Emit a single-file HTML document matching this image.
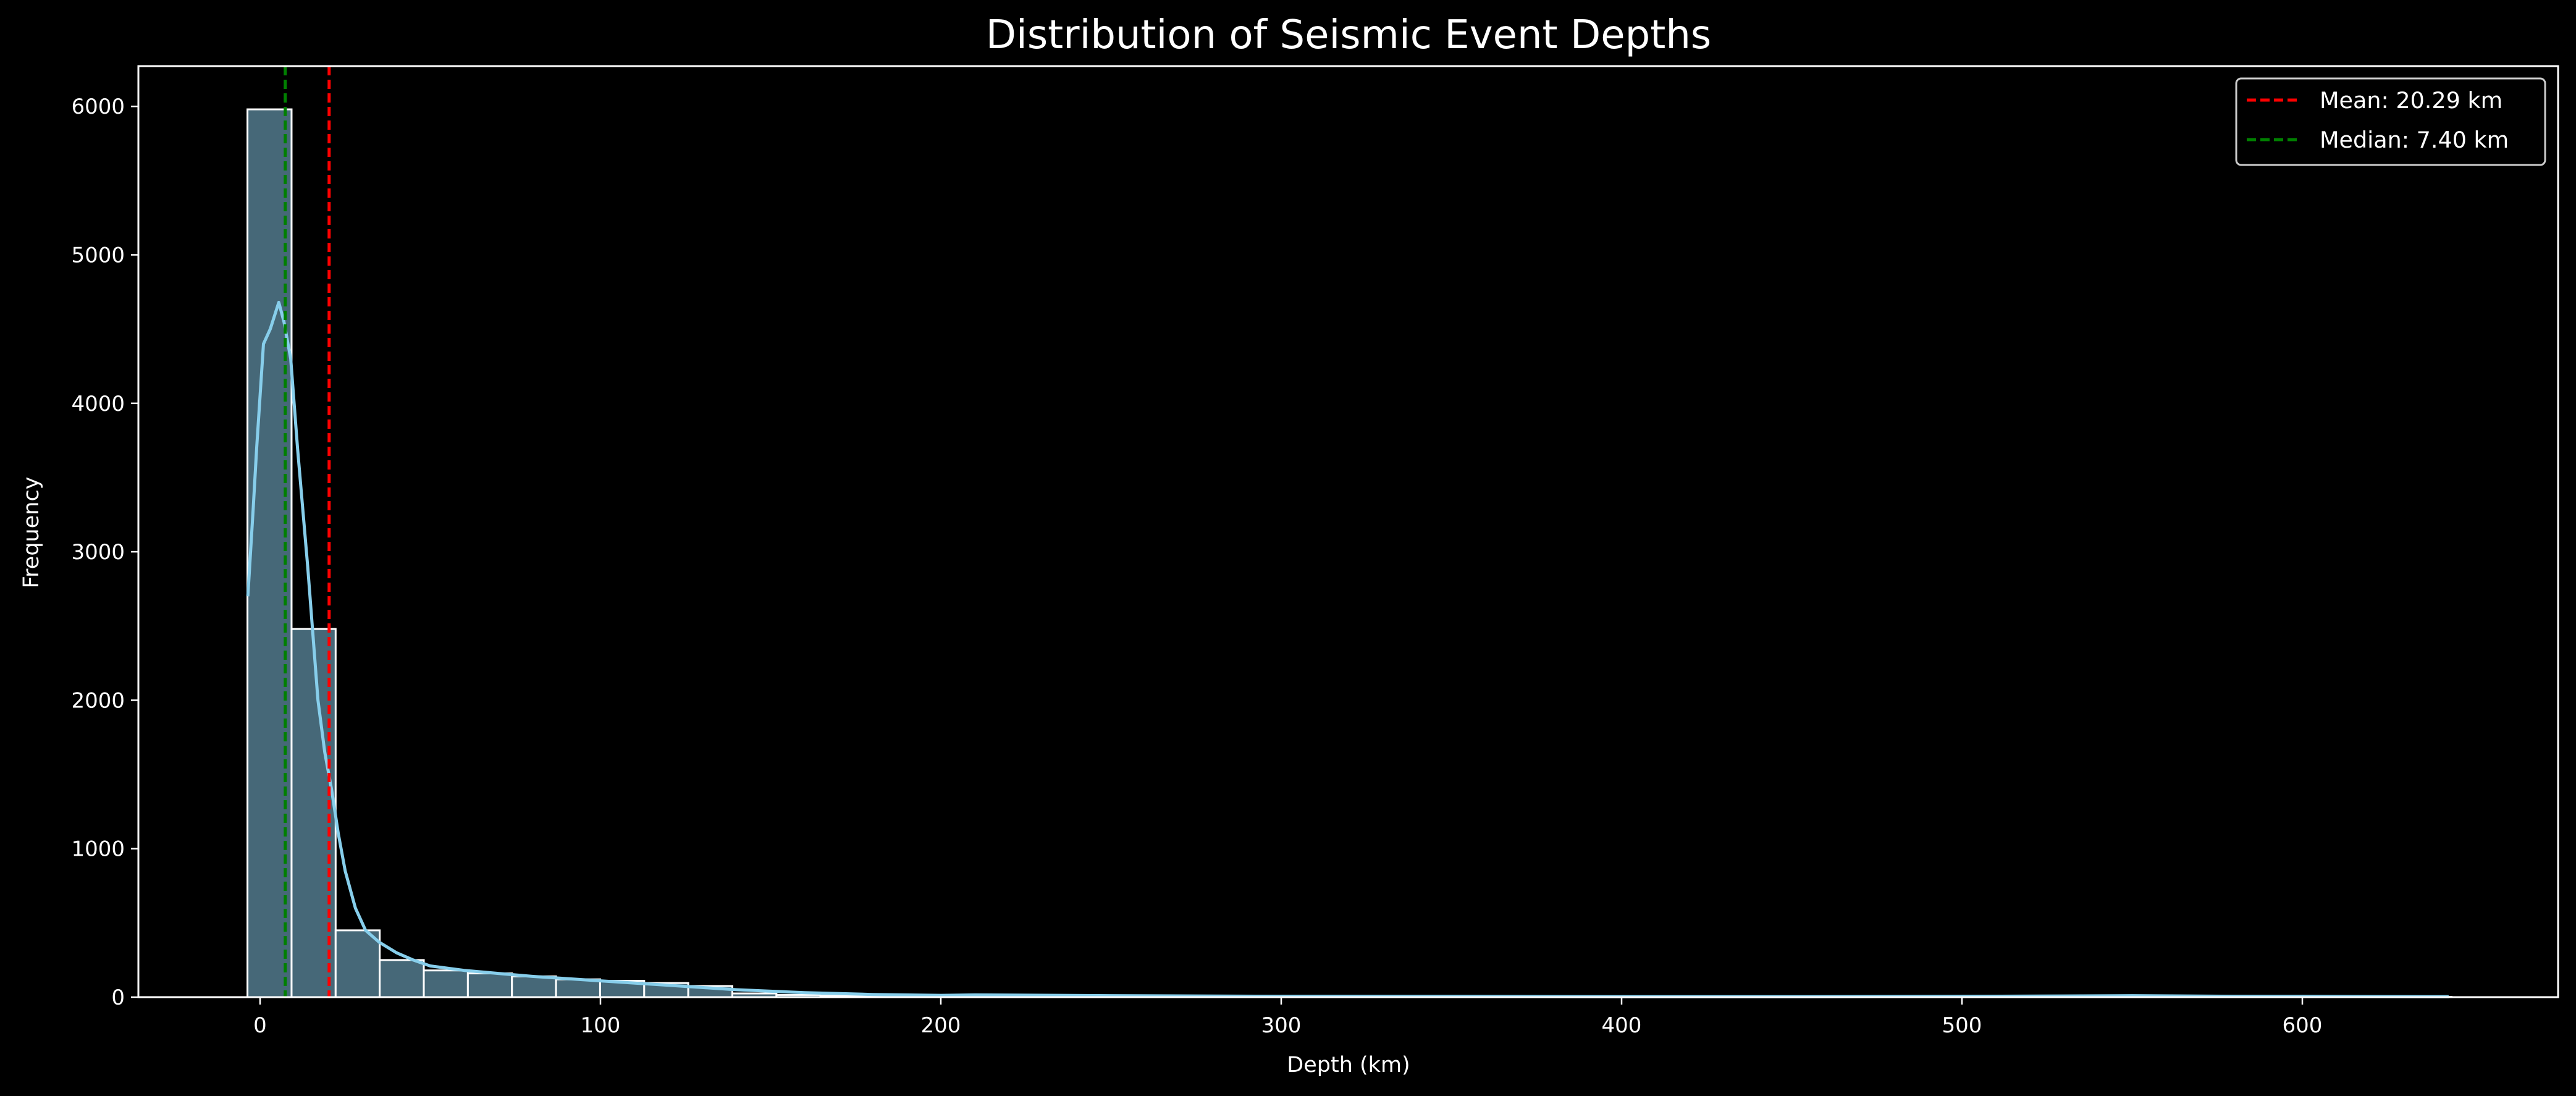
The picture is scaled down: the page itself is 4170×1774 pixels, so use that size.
<!DOCTYPE html>
<html><head><meta charset="utf-8"><style>
html,body{margin:0;padding:0;background:#000;}
svg{display:block;font-family:"DejaVu Sans","Liberation Sans",sans-serif;}
</style></head><body>
<svg id="chart" width="4170" height="1774" viewBox="0 0 4170 1774" xmlns="http://www.w3.org/2000/svg">
<rect x="0" y="0" width="4170" height="1774" fill="#000"/>
<text x="2183" y="78" font-size="64" fill="#fff" text-anchor="middle">Distribution of Seismic Event Depths</text>
<g id="bars"></g>
<g id="kde"></g>
<g id="vlines"></g>
<g id="axes"></g>
<text x="2183" y="1735" font-size="35" fill="#fff" text-anchor="middle">Depth (km)</text>
<text x="0" y="0" font-size="35" fill="#fff" text-anchor="middle" transform="translate(62,862) rotate(-90)">Frequency</text>
<g>
<rect x="3620" y="127" width="500" height="140" rx="8" fill="#000" stroke="#ccc" stroke-width="3"/>
<line x1="3637" y1="162" x2="3722" y2="162" stroke="#ff0000" stroke-width="5" stroke-dasharray="15 7"/>
<text x="3755" y="175" font-size="36.5" fill="#fff">Mean: 20.29 km</text>
<line x1="3637" y1="226" x2="3722" y2="226" stroke="#008000" stroke-width="5" stroke-dasharray="15 7"/>
<text x="3755" y="239" font-size="36.5" fill="#fff">Median: 7.40 km</text>
</g>
</svg>
<script>
const binStart = -3.7;
const binWidth = 12.95;
const counts = [5980,2480,450,250,180,160,140,120,110,95,75,25,15,10,8,6,5,4,4,3,3,3,2,2,2,2,2,2,2,2,2,2,2,3,3,3,3,3,4,4,5,6,7,8,8,6,5,4,3,2];
const kdeX = [-3.6,-2,-1,1,3,5.5,7,9,11,14,17,19,21,23,25,28,31,35,40,45,50,60,70,80,100,120,140,150,160,180,200,210,250,300,350,400,450,500,530,550,580,600,643];
const kdeY = [2700,3300,3700,4400,4500,4680,4550,4300,3700,2900,2000,1650,1400,1100,850,600,450,370,300,250,210,180,160,140,110,80,50,40,30,18,12,15,10,6,5,3,3,5,8,10,6,5,3];
const meanVal = 20.29;
const medianVal = 7.40;
const xTicks = [0,100,200,300,400,500,600];
const yTicks = [0,1000,2000,3000,4000,5000,6000];

const NS = "http://www.w3.org/2000/svg";
const L = 224, R = 4141, T = 107, B = 1614;
function xs(v){ return 421 + v * 5.51; }
function ys(v){ return 1614 - v * 0.2403; }
function mk(tag, attrs, parent){
  const e = document.createElementNS(NS, tag);
  for (const k in attrs) e.setAttribute(k, attrs[k]);
  parent.appendChild(e);
  return e;
}
const bars = document.getElementById('bars');
counts.forEach((c, i) => {
  const x0 = xs(binStart + i * binWidth), x1 = xs(binStart + (i + 1) * binWidth);
  const r = mk('rect', {x: x0, y: ys(c), width: x1 - x0, height: B - ys(c), fill: '#466878', stroke: '#fff', 'stroke-width': 3}, bars);
  
  
});
const kde = document.getElementById('kde');
const d = kdeX.map((x, i) => (i ? 'L' : 'M') + xs(x).toFixed(1) + ' ' + ys(kdeY[i]).toFixed(1)).join(' ');
const p = mk('path', {d: d, fill: 'none', stroke: '#87ceeb', 'stroke-width': 5, 'stroke-linejoin': 'round'}, kde);


const vl = document.getElementById('vlines');
const ml = mk('line', {x1: xs(meanVal), x2: xs(meanVal), y1: T, y2: B, stroke: '#ff0000', 'stroke-width': 5, 'stroke-dasharray': '15 7'}, vl);


const mdl = mk('line', {x1: xs(medianVal), x2: xs(medianVal), y1: T, y2: B, stroke: '#008000', 'stroke-width': 5, 'stroke-dasharray': '15 7'}, vl);


const ax = document.getElementById('axes');
const frame = mk('rect', {x: L, y: T, width: R - L, height: B - T, fill: 'none', stroke: '#fff', 'stroke-width': 3}, ax);


xTicks.forEach(t => {
  const x = xs(t);
  const tk = mk('line', {x1: x, x2: x, y1: B, y2: B + 12, stroke: '#fff', 'stroke-width': 2.5}, ax);
  
  
  const tx = mk('text', {x: x, y: B + 57, 'font-size': 34, fill: '#fff', 'text-anchor': 'middle'}, ax);
  tx.textContent = t;
  
  
});
yTicks.forEach(t => {
  const y = ys(t);
  const tk = mk('line', {x1: L - 12, x2: L, y1: y, y2: y, stroke: '#fff', 'stroke-width': 2.5}, ax);
  
  
  const tx = mk('text', {x: L - 22, y: y + 12, 'font-size': 34, fill: '#fff', 'text-anchor': 'end'}, ax);
  tx.textContent = t;
  
  
});
</script>
</body></html>
